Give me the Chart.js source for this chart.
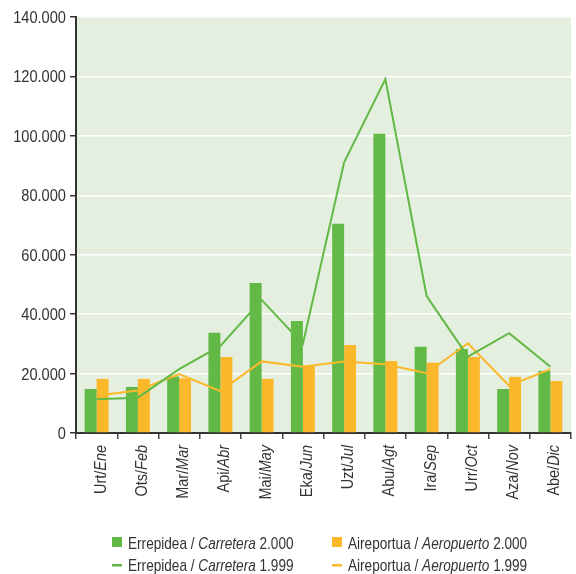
<!DOCTYPE html>
<html><head><meta charset="utf-8">
<script src="https://cdn.jsdelivr.net/npm/chart.js@4/dist/chart.umd.min.js"></script>
<style>html,body{margin:0;padding:0;background:#fff}#wrap{position:relative;width:576px;height:574px}</style>
</head><body><div id="wrap"><canvas id="c" width="576" height="574"></canvas></div>
<script>
const monthsEu = ['Urt/','Ots/','Mar/','Api/','Mai/','Eka/','Uzt/','Abu/','Ira/','Urr/','Aza/','Abe/'];
const monthsEs = ['Ene','Feb','Mar','Abr','May','Jun','Jul','Agt','Sep','Oct','Nov','Dic'];
const carretera2000 = [14800,15500,19000,33700,50500,37700,70400,100700,29000,28300,14800,20900];
const aeropuerto2000 = [18200,18200,18400,25600,18200,22700,29600,24200,23600,25600,18900,17500];
const carretera1999 = [11400,11900,21500,29300,44800,30000,91100,119100,46100,25700,33600,22300];
const aeropuerto1999 = [12600,14300,19800,14100,24100,22300,24100,23100,20100,30200,15900,21500];
const yTicks = [0,20000,40000,60000,80000,100000,120000,140000];
const legendItems = [
  {type:'box', color:'#62b946', parts:[['Errepidea / ',false],['Carretera',true],[' 2.000',false]]},
  {type:'box', color:'#fbb82a', parts:[['Aireportua / ',false],['Aeropuerto',true],[' 2.000',false]]},
  {type:'line', color:'#62b946', parts:[['Errepidea / ',false],['Carretera',true],[' 1.999',false]]},
  {type:'line', color:'#fbb82a', parts:[['Aireportua / ',false],['Aeropuerto',true],[' 1.999',false]]}
];
const GREEN='#62b946', ORANGE='#fbb82a', TXT='#333333';
const FONT="'Liberation Sans',Arial,sans-serif";
const fmt = v => String(v).replace(/\B(?=(\d{3})+(?!\d))/g,'.');

function partsWidth(ctx, parts, size){
  let w=0;
  for(const [t,it] of parts){ ctx.font=(it?'italic ':'')+size+'px '+FONT; w+=ctx.measureText(t).width; }
  return w;
}
function drawParts(ctx, parts, x, y, size){
  let cx = x;
  for(const [t,it] of parts){
    ctx.font = (it?'italic ':'') + size + 'px ' + FONT;
    ctx.fillText(t, cx, y);
    cx += ctx.measureText(t).width;
  }
}

const custom = {
  id:'custom',
  beforeDraw(chart){
    const {ctx, chartArea:a} = chart;
    ctx.save(); ctx.fillStyle='#e4efdf';
    ctx.fillRect(a.left, a.top, a.right-a.left, a.bottom-a.top);
    ctx.restore();
  },
  afterDraw(chart){
    const ctx = chart.ctx, xs = chart.scales.x, ys = chart.scales.y;
    ctx.save();
    ctx.fillStyle = TXT; ctx.textBaseline='alphabetic';
    // y labels
    for(const v of yTicks){
      const py = ys.getPixelForValue(v);
      ctx.save();
      ctx.translate(66, py+6);
      ctx.scale(0.86,1);
      ctx.font='17px '+FONT; ctx.textAlign='right';
      ctx.fillText(fmt(v),0,0);
      ctx.restore();
    }
    ctx.textAlign='left';
    // x labels rotated
    for(let i=0;i<monthsEu.length;i++){
      const px = xs.getPixelForValue(i) + 9;
      const parts=[[monthsEu[i],false],[monthsEs[i],true]];
      ctx.save();
      ctx.translate(px, 445);
      ctx.rotate(-Math.PI/2);
      ctx.scale(0.85,1);
      const w = partsWidth(ctx, parts, 17);
      drawParts(ctx, parts, -w, 0, 17);
      ctx.restore();
    }
    // legend
    const cols=[112,332], rows=[549,571];
    legendItems.forEach((it,k)=>{
      const x = cols[k%2], y = rows[Math.floor(k/2)];
      ctx.fillStyle = it.color;
      if(it.type==='box') ctx.fillRect(x, y-12, 10, 10);
      else ctx.fillRect(x, y-7, 10, 2.5);
      ctx.fillStyle = TXT;
      ctx.save();
      ctx.translate(x+16, y);
      ctx.scale(0.80,1);
      drawParts(ctx, it.parts, 0, 0, 17);
      ctx.restore();
    });
    ctx.restore();
  }
};

new Chart(document.getElementById('c'), {
  type:'bar',
  data:{
    labels: monthsEu.map((m,i)=>m+monthsEs[i]),
    datasets:[
      {type:'bar', label:'Errepidea / Carretera 2.000', data:carretera2000, backgroundColor:GREEN, order:2, categoryPercentage:0.58, barPercentage:1.0},
      {type:'bar', label:'Aireportua / Aeropuerto 2.000', data:aeropuerto2000, backgroundColor:ORANGE, order:2, categoryPercentage:0.58, barPercentage:1.0},
      {type:'line', label:'Errepidea / Carretera 1.999', data:carretera1999, borderColor:GREEN, borderWidth:2, pointRadius:0, tension:0, order:1},
      {type:'line', label:'Aireportua / Aeropuerto 1.999', data:aeropuerto1999, borderColor:ORANGE, borderWidth:2, pointRadius:0, tension:0, order:1}
    ]
  },
  options:{
    responsive:false, animation:false, devicePixelRatio:1,
    layout:{padding:{top:17,right:5,left:0,bottom:0}},
    plugins:{legend:{display:false}, tooltip:{enabled:false}},
    scales:{
      x:{
        offset:true,
        grid:{offset:true, drawOnChartArea:false, tickColor:'#444', tickLength:6, lineWidth:1.5},
        border:{color:'#333', width:2},
        ticks:{display:false},
        afterFit(s){ s.height = 141; }
      },
      y:{
        min:0, max:140000,
        afterBuildTicks(s){ s.ticks = yTicks.map(v=>({value:v})); },
        grid:{color:'#ffffff', lineWidth:1.5, tickColor:'#333', tickLength:6},
        border:{color:'#333', width:2},
        ticks:{display:false},
        afterFit(s){ s.width = 76; }
      }
    }
  },
  plugins:[custom]
});
</script></body></html>
